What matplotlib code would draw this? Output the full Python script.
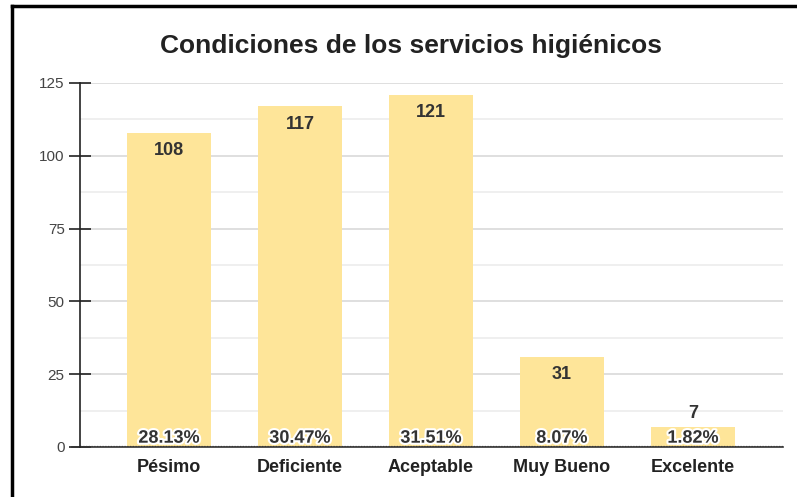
import matplotlib.pyplot as plt
import matplotlib.patheffects as pe
from matplotlib.ticker import MultipleLocator

categorias = ["Pésimo", "Deficiente", "Aceptable", "Muy Bueno", "Excelente"]
valores = [108, 117, 121, 31, 7]
porcentajes = ["28.13%", "30.47%", "31.51%", "8.07%", "1.82%"]

plt.rcParams['font.family'] = ['Liberation Sans', 'DejaVu Sans']

fig = plt.figure(figsize=(7.97, 4.97), dpi=100)
ax = fig.add_axes([80 / 797, 1 - 447 / 497, (783 - 80) / 797, (447 - 83) / 497])

x = list(range(len(categorias)))
ax.bar(x, valores, width=84 / 131, color='#fee599', zorder=2)

ax.set_xlim((80 - 169) / 131, (783 - 169) / 131)
ax.set_ylim(0, 125)

# grid
ax.yaxis.set_major_locator(MultipleLocator(25))
ax.yaxis.set_minor_locator(MultipleLocator(12.5))
ax.grid(axis='y', which='major', color='#d9d9d9', linewidth=1.2, zorder=0)
ax.grid(axis='y', which='minor', color='#ececec', linewidth=1.2, zorder=0)
ax.axhline(0.45, color='#555555', linewidth=0.9, linestyle=(0, (1, 1.2)), zorder=3)

for s in ['top', 'right', 'bottom']:
    ax.spines[s].set_visible(False)
ax.spines['left'].set_color('#222222')
ax.spines['left'].set_linewidth(1.2)
ax.spines['left'].set_zorder(4)

# x-axis line incl. tick stub
ax.plot([(72 - 169) / 131, (783 - 169) / 131], [0, 0], color='#333333',
        linewidth=1.2, clip_on=False, zorder=4)

ax.tick_params(axis='y', which='major', direction='inout', length=16, width=1.2,
               color='#222222', labelsize=11, labelcolor='#444444', pad=3)
ax.tick_params(axis='y', which='minor', length=0)
ax.set_xticks(x)
ax.set_xticklabels(categorias, fontweight='bold', fontsize=13, color='#222222')
ax.tick_params(axis='x', length=0, pad=8.5)

stroke = [pe.withStroke(linewidth=3, foreground='white')]
for i, v in enumerate(valores):
    if v > 20:
        ax.text(i, v - 3.2, str(v), ha='center', va='top', fontsize=13, fontweight='bold',
                color='#333333', zorder=5)
    else:
        ax.text(i, v + 1.5, str(v), ha='center', va='bottom', fontsize=13, fontweight='bold',
                color='#333333', zorder=5)
    ax.text(i, 0.1, porcentajes[i], ha='center', va='bottom', fontsize=13, fontweight='bold',
            color='#333333', path_effects=stroke, zorder=5)

fig.text(411 / 797, 1 - 46 / 497, "Condiciones de los servicios higiénicos", ha='center',
         va='center', fontsize=19, fontweight='bold', color='#222222')

# marco
fig.add_artist(plt.Line2D([12 / 797, 12 / 797], [0, 1 - 6 / 497], color='black',
                          linewidth=2.5, transform=fig.transFigure))
fig.add_artist(plt.Line2D([12 / 797, 1], [1 - 6 / 497, 1 - 6 / 497], color='black',
                          linewidth=2.5, transform=fig.transFigure))

fig.savefig('out.png', dpi=100)
